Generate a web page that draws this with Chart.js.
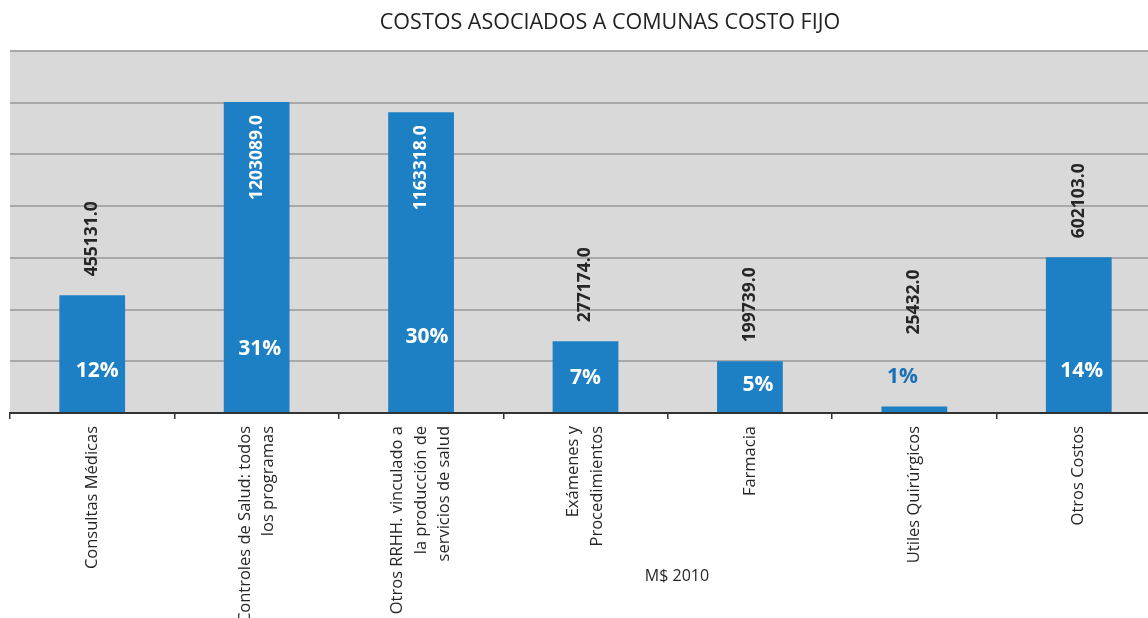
<!DOCTYPE html>
<html>
<head>
<meta charset="utf-8">
<script src="https://cdn.jsdelivr.net/npm/chart.js@4"></script>
<style>
  html, body { margin: 0; padding: 0; background: #fff; overflow: hidden; }
</style>
</head>
<body>
<canvas id="costChart" width="1220" height="618"></canvas>
<script>
const chartTitle = "COSTOS ASOCIADOS A COMUNAS COSTO FIJO"
const axisTitle = "M$ 2010"
const categories = [
  ["Consultas Médicas"],
  ["Controles de Salud: todos", "los programas"],
  ["Otros RRHH. vinculado a", "la producción de", "servicios de salud"],
  ["Exámenes y", "Procedimientos"],
  ["Farmacia"],
  ["Utiles Quirúrgicos"],
  ["Otros Costos"]
]
const costValues = [455131, 1203089, 1163318, 277174, 199739, 25432, 602103]
const pctLabels = ["12%", "31%", "30%", "7%", "5%", "1%", "14%"]
const yMax = 1400000
const yStep = 200000

const barBlue = "#1e80c4"

// gray plot background, title, value + percent labels, category labels
const barLabels = {
  id: "barLabels",
  beforeDraw(chart) {
    const { ctx, chartArea } = chart
    ctx.save()
    ctx.fillStyle = "#d9d9d9"
    ctx.fillRect(chartArea.left, chartArea.top, chartArea.width, chartArea.height)
    ctx.restore()
  },
  afterDatasetsDraw(chart, args, opts) {
    const ctx = chart.ctx
    const meta = chart.getDatasetMeta(0)
    const base = chart.scales.y.getPixelForValue(0)
    meta.data.forEach((bar, i) => {
      const top = bar.y
      const small = base - top < 30
      // percent
      const py = small ? top - 29 : base - opts.pctLift[i]
      ctx.save()
      ctx.font = "bold 21px 'Open Sans'"
      ctx.textAlign = "center"
      ctx.textBaseline = "middle"
      ctx.fillStyle = small ? "#1a70b8" : "#ffffff"
      ctx.fillText(pctLabels[i], bar.x + opts.pctShift[i], py)
      ctx.restore()
      // value, rotated
      const inside = top - chart.chartArea.top < 100
      ctx.save()
      ctx.font = "bold 17.5px 'Open Sans'"
      ctx.textBaseline = "middle"
      if (inside) {
        ctx.translate(bar.x, top + 13)
        ctx.textAlign = "right"
        ctx.fillStyle = "#ffffff"
      } else {
        ctx.translate(bar.x, small ? py - 43 : top - 19)
        ctx.textAlign = "left"
        ctx.fillStyle = "#262626"
      }
      ctx.rotate(-Math.PI / 2)
      ctx.fillText(costValues[i].toFixed(1), 0, 0)
      ctx.restore()
    })
  },
  afterDraw(chart) {
    const ctx = chart.ctx
    const xs = chart.scales.x
    ctx.save()
    ctx.fillStyle = "#222"
    ctx.textAlign = "center"
    ctx.textBaseline = "middle"
    ctx.font = "21.5px 'Open Sans'"
    ctx.fillText(chartTitle, 610, 23)

    ctx.fillStyle = "#262626"
    ctx.font = "16.5px 'Open Sans'"
    categories.forEach((lines, i) => {
      const cx = xs.getPixelForValue(i)
      lines.forEach((line, j) => {
        const lx = cx + (j - (lines.length - 1) / 2) * 23.5
        ctx.save()
        ctx.translate(lx, xs.top + 13)
        ctx.rotate(-Math.PI / 2)
        ctx.textAlign = "right"
        ctx.fillText(line, 0, 0)
        ctx.restore()
      })
    })
    ctx.textAlign = "center"
    ctx.font = "16px 'Open Sans'"
    ctx.fillText(axisTitle, 677, 576)
    ctx.restore()
  }
}

new Chart(document.getElementById("costChart"), {
  type: "bar",
  data: {
    labels: categories.map(c => c.join(" ")),
    datasets: [{
      data: costValues,
      backgroundColor: barBlue,
      barPercentage: 0.4,
      categoryPercentage: 1
    }]
  },
  options: {
    responsive: false,
    animation: false,
    layout: { padding: { left: 10, right: 59, top: 51, bottom: 0 } },
    plugins: {
      legend: { display: false },
      tooltip: { enabled: false },
      title: { display: false },
      barLabels: {
        pctLift: [42, 64, 76, 35, 28, 0, 42],
        pctShift: [5, 3, 6, 0, 8, -12, 3]
      }
    },
    scales: {
      x: {
        ticks: { display: false },
        grid: { display: true, drawOnChartArea: false, drawTicks: true, tickLength: 6, color: "#333", lineWidth: 1.5 },
        border: { display: true, color: "#333", width: 2 },
        afterFit(scale) { scale.height = 205 }
      },
      y: {
        min: 0,
        max: yMax,
        ticks: { display: false, stepSize: yStep },
        grid: { color: "#a8a8a8", lineWidth: 2, drawTicks: false },
        border: { display: false }
      }
    }
  },
  plugins: [barLabels]
})
</script>
</body>
</html>
